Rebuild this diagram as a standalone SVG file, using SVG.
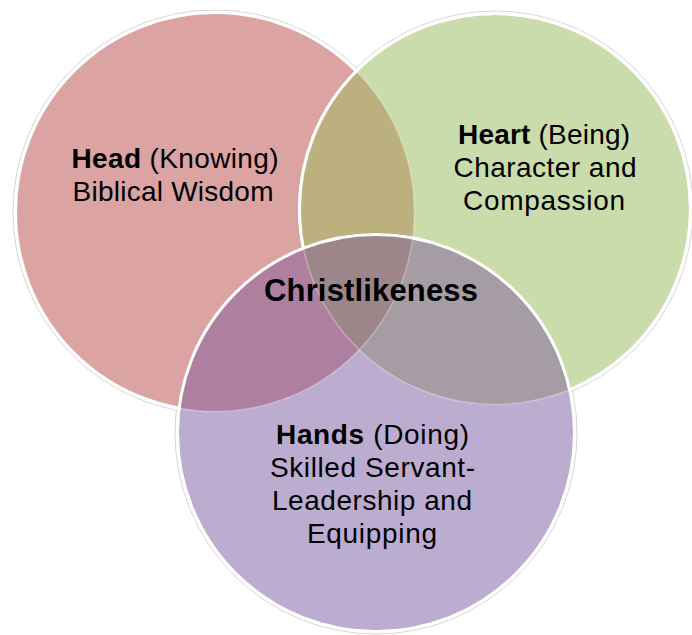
<svg xmlns="http://www.w3.org/2000/svg" width="692" height="635" viewBox="0 0 692 635">
  <defs>
    <clipPath id="cR"><circle cx="215" cy="212" r="199.5"/></clipPath>
    <clipPath id="cG"><circle cx="495" cy="209" r="195.5"/></clipPath>
    <clipPath id="cP"><circle cx="376" cy="433" r="198.5"/></clipPath>
    <style>
      .ring { fill: none; stroke: #d6d6d6; stroke-width: 1; }
      .edge { fill: none; stroke: #ffffff; stroke-width: 3; }
      .faint { fill: none; stroke: #ffffff; stroke-opacity: 0.3; stroke-width: 1.5; }
      .lbl { font-family: "Liberation Sans", Arial, sans-serif; font-size: 28px; fill: #000; text-anchor: middle; }
      .b { font-weight: bold; }
    </style>
  </defs>
  <rect width="692" height="635" fill="#ffffff"/>

  <g id="outlines">
    <circle class="ring" cx="215" cy="212" r="202"/>
    <circle class="ring" cx="495" cy="209" r="198"/>
    <circle class="ring" cx="376" cy="433" r="201"/>
  </g>

  <g id="head">
    <circle cx="215" cy="212" r="199.5" fill="#dca3a3"/>
    <circle class="edge" cx="215" cy="212" r="199.5"/>
  </g>

  <g id="heart">
    <circle cx="495" cy="209" r="195.5" fill="#cadcac"/>
    <circle class="edge" cx="495" cy="209" r="195.5"/>
    <g clip-path="url(#cG)">
      <circle cx="215" cy="212" r="199.5" fill="#bcb07f"/>
      <circle class="faint" cx="215" cy="212" r="199.5"/>
    </g>
    <circle class="edge" cx="495" cy="209" r="195.5"/>
  </g>

  <g id="hands">
    <circle cx="376" cy="433" r="198.5" fill="#bcadd0"/>
    <g clip-path="url(#cP)">
      <circle cx="215" cy="212" r="199.5" fill="#ae7f9e"/>
      <circle cx="495" cy="209" r="195.5" fill="#a59ca4"/>
      <g clip-path="url(#cG)">
        <circle cx="215" cy="212" r="199.5" fill="#9d868a"/>
      </g>
      <circle class="faint" cx="215" cy="212" r="199.5"/>
      <circle class="faint" cx="495" cy="209" r="195.5"/>
    </g>
    <circle class="edge" cx="376" cy="433" r="198.5"/>
  </g>

  <g id="labels">
    <g id="head-label">
      <text class="lbl" x="175" y="168" textLength="207" lengthAdjust="spacing"><tspan class="b">Head</tspan> (Knowing)</text>
      <text class="lbl" x="173" y="201" textLength="201" lengthAdjust="spacing">Biblical Wisdom</text>
    </g>
    <g id="heart-label">
      <text class="lbl" x="544" y="144" textLength="172" lengthAdjust="spacing"><tspan class="b">Heart</tspan> (Being)</text>
      <text class="lbl" x="545" y="177" textLength="183" lengthAdjust="spacing">Character and</text>
      <text class="lbl" x="544" y="210" textLength="162" lengthAdjust="spacing">Compassion</text>
    </g>
    <g id="center-label">
      <text class="lbl b" x="371" y="301" style="font-size:31px" textLength="214" lengthAdjust="spacing">Christlikeness</text>
    </g>
    <g id="hands-label">
      <text class="lbl" x="372.5" y="444" textLength="193" lengthAdjust="spacing"><tspan class="b">Hands</tspan> (Doing)</text>
      <text class="lbl" x="372.5" y="477" textLength="205" lengthAdjust="spacing">Skilled Servant-</text>
      <text class="lbl" x="372" y="510" textLength="200" lengthAdjust="spacing">Leadership and</text>
      <text class="lbl" x="372" y="543" textLength="130" lengthAdjust="spacing">Equipping</text>
    </g>
  </g>
</svg>
